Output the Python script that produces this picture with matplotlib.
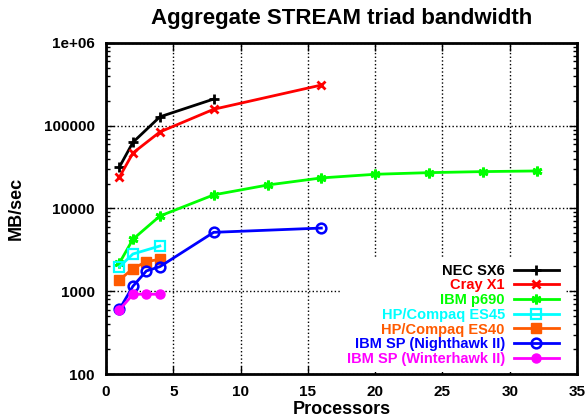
import matplotlib
matplotlib.use('Agg')
import matplotlib.pyplot as plt
from matplotlib.ticker import FixedLocator, LogLocator, NullFormatter

plt.rcParams['font.family'] = ['Liberation Sans', 'DejaVu Sans']
plt.rcParams['font.weight'] = 'bold'

# данные: процессоры и пропускная способность (MB/sec)
nec_p = [1, 2, 4, 8]
nec_bw = [31800, 63000, 128000, 210000]

cray_p = [1, 2, 4, 8, 16]
cray_bw = [24000, 46800, 84000, 158000, 310000]

p690_p = [1, 2, 4, 8, 12, 16, 20, 24, 28, 32]
p690_bw = [2200, 4250, 8100, 14600, 19200, 23400, 25900, 27100, 27900, 28400]

es45_p = [1, 2, 4]
es45_bw = [1980, 2820, 3520]

es40_p = [1, 2, 3, 4]
es40_bw = [1370, 1880, 2280, 2430]

night_p = [1, 2, 3, 4, 8, 16]
night_bw = [605, 1150, 1760, 1980, 5150, 5800]

winter_p = [1, 2, 3, 4]
winter_bw = [595, 920, 920, 920]

x_ticks = [0, 5, 10, 15, 20, 25, 30, 35]
y_ticks = [100, 1000, 10000, 100000, 1000000]
y_tick_labels = ['100', '1000', '10000', '100000', '1e+06']

fig = plt.figure(figsize=(5.87, 4.17), dpi=100)
ax = fig.add_axes([0.1806, 0.1031, 0.8024, 0.7939])

lw = 2
ax.plot(nec_p, nec_bw, color='black', lw=lw, marker='+', ms=7, mew=2, label='NEC SX6')
ax.plot(cray_p, cray_bw, color='red', lw=lw, marker='x', ms=6, mew=2, label='Cray X1')
ax.plot(p690_p, p690_bw, color='#00ff00', lw=lw, marker=(6, 2, 0), ms=7, mew=2, label='IBM p690')
ax.plot(es45_p, es45_bw, color='#00ffff', lw=lw, marker='s', ms=6.5, mew=1.6, mfc='none', label='HP/Compaq ES45')
ax.plot(es40_p, es40_bw, color='#ff5a00', lw=lw, marker='s', ms=6.5, mew=1, label='HP/Compaq ES40')
ax.plot(night_p, night_bw, color='#0000ff', lw=lw, marker='o', ms=7, mew=1.8, mfc='none', label='IBM SP (Nighthawk II)')
ax.plot(winter_p, winter_bw, color='#ff00ff', lw=lw, marker='o', ms=6.5, label='IBM SP (Winterhawk II)')

ax.set_yscale('log')
ax.set_xlim(0, 35)
ax.set_ylim(100, 1e6)
ax.xaxis.set_major_locator(FixedLocator(x_ticks))
ax.set_xticklabels([str(t) for t in x_ticks])
ax.yaxis.set_major_locator(FixedLocator(y_ticks))
ax.set_yticklabels(y_tick_labels)
ax.yaxis.set_minor_locator(LogLocator(base=10, subs=range(2, 10)))
ax.yaxis.set_minor_formatter(NullFormatter())

ax.tick_params(which='both', direction='in', top=True, right=True, labelsize=11)
ax.tick_params(which='major', length=6, width=1, pad=8)
ax.tick_params(which='minor', length=3, width=1)
for s in ax.spines.values():
    s.set_linewidth(2)

ax.grid(True, which='major', color='black', linestyle=':', linewidth=1)
ax.set_axisbelow(True)

ax.set_xlabel('Processors', fontsize=13, fontweight='bold', labelpad=1)
ax.set_ylabel('MB/sec', fontsize=13, fontweight='bold', labelpad=14)
ax.set_title('Aggregate STREAM triad bandwidth', fontsize=16, fontweight='bold', pad=14)

leg = ax.legend(loc='lower right', bbox_to_anchor=(0.986, -0.011), markerfirst=False,
                labelcolor='linecolor', frameon=True, fancybox=False, edgecolor='none',
                framealpha=1, fontsize=10.5, handlelength=3.1, labelspacing=0.05,
                handletextpad=0.6, borderaxespad=0.4, alignment='right')
for t in leg.get_texts():
    t.set_ha('right')
    t.set_fontweight('bold')

plt.savefig('out.png', dpi=100)
plt.close()
